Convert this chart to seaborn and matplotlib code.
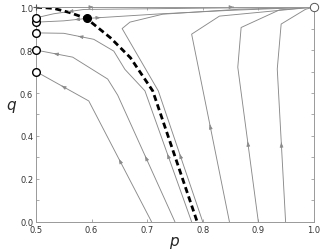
import numpy as np
import pandas as pd
import seaborn as sns
import matplotlib.pyplot as plt

# trajectories in the (p, q) plane, ordered in the direction of flow
traj_p = {
    "A": [0.708, 0.595, 0.50],
    "B": [0.75, 0.647, 0.629, 0.566, 0.50],
    "C": [0.78, 0.696, 0.66, 0.64, 0.604, 0.55, 0.50],
    "D": [0.80, 0.72, 0.655, 0.669, 0.728, 0.866, 1.0],
    "E": [0.848, 0.78, 0.83, 1.0],
    "F": [0.90, 0.863, 0.869, 0.938, 1.0],
    "G": [0.949, 0.934, 0.941, 0.985, 1.0],
    "H": [1.0, 0.80, 0.586, 0.532, 0.50],
    "I": [0.591, 0.55, 0.50],
    "J": [0.591, 0.64, 0.72, 0.85, 1.0],
    "K": [0.50, 0.70, 1.0],
}
traj_q = {
    "A": [0.0, 0.563, 0.70],
    "B": [0.0, 0.59, 0.665, 0.767, 0.80],
    "C": [0.0, 0.61, 0.71, 0.795, 0.85, 0.878, 0.88],
    "D": [0.0, 0.61, 0.90, 0.93, 0.967, 0.99, 1.0],
    "E": [0.0, 0.874, 0.958, 1.0],
    "F": [0.0, 0.72, 0.905, 0.987, 1.0],
    "G": [0.0, 0.712, 0.921, 0.99, 1.0],
    "H": [1.0, 0.995, 0.989, 0.969, 0.95],
    "I": [0.947, 0.936, 0.93],
    "J": [0.947, 0.955, 0.968, 0.985, 1.0],
    "K": [1.0, 1.0, 1.0],
}
# (trajectory, segment) carrying a direction arrow
arrows = [("A", 0), ("A", 1), ("B", 0), ("B", 3), ("C", 0), ("C", 4),
          ("D", 0), ("E", 0), ("F", 0), ("G", 0), ("H", 2), ("I", 0),
          ("J", 0), ("K", 0), ("K", 1)]

# separatrix
sep_p = [0.50, 0.532, 0.56, 0.591, 0.634, 0.67, 0.684, 0.71, 0.79]
sep_q = [1.0, 0.994, 0.975, 0.947, 0.857, 0.764, 0.71, 0.61, 0.0]

# fixed points
open_p = [0.5, 0.5, 0.5, 0.5, 0.5]
open_q = [0.70, 0.80, 0.88, 0.93, 0.95]
saddle_p, saddle_q = [0.591], [0.947]

sns.set_style("ticks")
fig = plt.figure(figsize=(3.24, 2.53), dpi=100)
ax = fig.add_axes([0.111, 0.119, 0.858, 0.849])

gray = "#8a8a8a"
for k in traj_p:
    d = pd.DataFrame({"p": traj_p[k], "q": traj_q[k]})
    sns.lineplot(data=d, x="p", y="q", sort=False, estimator=None,
                 color=gray, lw=0.65, ax=ax)
for k, s in arrows:
    x0, x1 = traj_p[k][s], traj_p[k][s + 1]
    y0, y1 = traj_q[k][s], traj_q[k][s + 1]
    xm, ym = (x0 + x1) / 2, (y0 + y1) / 2
    ax.annotate("", xy=(xm + (x1 - x0) * 0.02, ym + (y1 - y0) * 0.02),
                xytext=(xm, ym),
                arrowprops=dict(arrowstyle="-|>,head_length=0.4,head_width=0.15",
                                mutation_scale=7, color=gray, lw=0.5))

ax.plot(sep_p, sep_q, color="black", lw=2.0, ls=(0, (2.2, 1.3)))
ax.plot(open_p, open_q, "o", ms=5.5, mfc="white", mec="black", mew=1.0,
        ls="none", clip_on=False, zorder=5)
ax.plot(saddle_p, saddle_q, "o", ms=5.5, color="black", ls="none", zorder=5)
ax.plot([1.0], [1.0], "o", ms=6, mfc="white", mec="#555555", mew=0.7,
        ls="none", clip_on=False, zorder=5)
ax.plot([0.5], [1.0], "+", ms=5, color="#555555", mew=0.8, ls="none",
        clip_on=False, zorder=5)

ax.set_xlim(0.5, 1.0)
ax.set_ylim(0.0, 1.0)
ax.set_xticks(np.arange(0.5, 1.01, 0.1))
ax.set_yticks(np.arange(0.0, 1.01, 0.2))
ax.set_yticks(np.arange(0.1, 1.0, 0.2), minor=True)
ax.tick_params(which="both", direction="in", top=True, right=True,
               length=2.5, width=0.5, color="#888888", labelsize=6,
               labelcolor="#333333", pad=2)
for sp in ax.spines.values():
    sp.set_color("#999999")
    sp.set_linewidth(0.7)
ax.set_xlabel("$p$", fontsize=11, labelpad=0)
ax.set_ylabel("$q$", fontsize=11, rotation=0, labelpad=6)

fig.savefig("out.png", dpi=100)
